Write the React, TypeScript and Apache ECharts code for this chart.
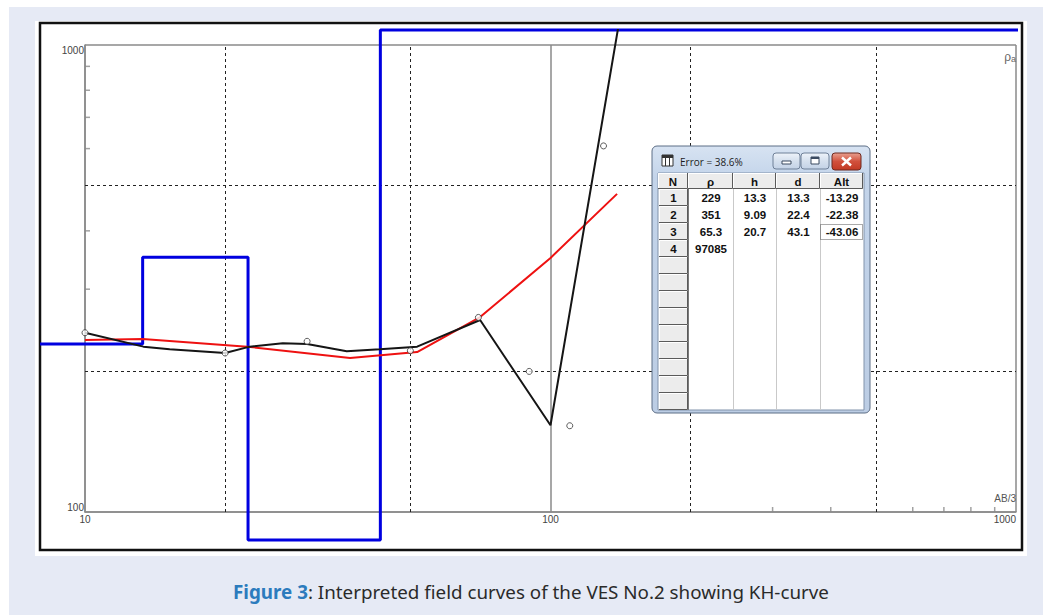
import React, { useEffect, useRef } from "react";
import * as echarts from "echarts";

// ---- Layer model (table + blue step curve) ----
const layerRho = [229, 351, 65.3, 97085];
const layerH = [13.3, 9.09, 20.7];
const layerD = [13.3, 22.4, 43.1];
const layerAlt = [-13.29, -22.38, -43.06];
const errorText = "Error = 38.6%";

// ---- Field data (open circles) ----
const fieldAB = [10, 20, 30, 50, 70, 90, 110, 130];
const fieldRho = [242, 219, 232, 221.5, 261, 200, 153, 608];

// ---- Black curve ----
const blackAB = [10, 13.35, 15.2, 20, 22.6, 26.6, 30, 36.5, 43, 51.7, 70.6, 100, 140];
const blackRho = [242, 226, 223, 219, 226, 229.7, 229, 221, 223, 226, 257.7, 153.4, 1100];

// ---- Red curve ----
const redAB = [10, 13.3, 22.3, 37.1, 51.7, 70.6, 100, 139];
const redRho = [233.5, 234.7, 226, 213.7, 220, 261.5, 350, 480];

// ---- Axes / grid ----
const xRange = [10, 1000];
const yRange = [100, 1000];
const dashedX = [20, 50, 200, 500];
const dashedY = [200, 500];
const minorX = [300, 400, 600, 700, 800, 900];
const minorY = [300, 400, 600, 700, 800, 900];

const caption1 = "Figure 3";
const caption2 = ": Interpreted field curves of the VES No.2 showing KH-curve";

export default function App() {
  const ref = useRef<HTMLDivElement>(null);
  useEffect(() => {
    if (!ref.current) return;
    const chart = echarts.init(ref.current, null, { renderer: "svg" });

    // plot geometry
    const G1 = { left: 85, top: 45, width: 931, height: 467 };
    const G2 = { left: 40, top: 30, width: 978, height: 510 };
    const decX = G1.width / 2;
    const decY = G1.height / 1;
    const lx0 = Math.log10(xRange[0]);
    const ly1 = Math.log10(yRange[1]);
    const x2min = Math.pow(10, lx0 - (G1.left - G2.left) / decX);
    const x2max = Math.pow(10, lx0 + (G2.left + G2.width - G1.left) / decX);
    const y2max = Math.pow(10, ly1 + (G1.top - G2.top) / decY);
    const y2min = Math.pow(10, ly1 - (G2.top + G2.height - G1.top) / decY);
    const clampX = (v: number) => Math.min(Math.max(v, x2min), x2max);
    const clampY = (v: number) => Math.min(Math.max(v, y2min), y2max);

    // blue step curve from layers (values beyond the panel are pinned to its edge, as in the source program)
    const blueRaw: number[][] = [];
    blueRaw.push([1, layerRho[0]]);
    for (let i = 0; i < layerD.length; i++) {
      blueRaw.push([layerD[i], layerRho[i]]);
      blueRaw.push([layerD[i], layerRho[i + 1]]);
    }
    blueRaw.push([100000, layerRho[layerRho.length - 1]]);
    const blue = blueRaw.map(([x, y]) => [clampX(x), clampY(y)]);

    // ---- table window graphic ----
    const ZT = 50;
    const W = { x: 652, y: 146, w: 218, h: 267 };
    const cols = [658, 688, 733, 776, 820, 863];
    const headY = 173;
    const rowY0 = 189;
    const rowH = 17;
    const nRows = 13;
    const tbl: any[] = [];
    const add = (el: any) => tbl.push({ z: ZT, ...el });
    add({
      type: "rect",
      shape: { x: W.x, y: W.y, width: W.w, height: W.h, r: 5 },
      style: {
        fill: new echarts.graphic.LinearGradient(0, 0, 0, 1, [
          { offset: 0, color: "#d7e3f2" },
          { offset: 0.12, color: "#c3d4ea" },
          { offset: 1, color: "#bccde4" },
        ]),
        stroke: "#5d6e86",
        lineWidth: 1,
      },
    });
    add({
      type: "rect",
      shape: { x: cols[0], y: headY, width: cols[5] - cols[0] + 1, height: 410 - headY },
      style: { fill: "#ffffff", stroke: "#8193ab", lineWidth: 1 },
    });
    // icon
    add({ type: "rect", shape: { x: 662, y: 155, width: 11, height: 11 }, style: { fill: "#fff", stroke: "#333", lineWidth: 1 } });
    add({ type: "rect", shape: { x: 662, y: 155, width: 11, height: 3 }, style: { fill: "#333" } });
    add({ type: "line", shape: { x1: 665.5, y1: 157, x2: 665.5, y2: 166 }, style: { stroke: "#333", lineWidth: 1 } });
    add({ type: "line", shape: { x1: 669.5, y1: 157, x2: 669.5, y2: 166 }, style: { stroke: "#333", lineWidth: 1 } });
    add({
      type: "text",
      style: { x: 680, y: 162, text: errorText, fill: "#1c1c1c", font: '10px "Open Sans", "Noto Sans", sans-serif', verticalAlign: "middle", align: "left" },
    });
    // buttons
    const btnGrad = () =>
      new echarts.graphic.LinearGradient(0, 0, 0, 1, [
        { offset: 0, color: "#eef3fa" },
        { offset: 0.5, color: "#d5e0ee" },
        { offset: 1, color: "#c3d2e6" },
      ]);
    add({ type: "rect", shape: { x: 773, y: 153, width: 27, height: 16, r: 3 }, style: { fill: btnGrad(), stroke: "#6f8098", lineWidth: 1 } });
    add({ type: "rect", shape: { x: 801, y: 153, width: 28, height: 16, r: 3 }, style: { fill: btnGrad(), stroke: "#6f8098", lineWidth: 1 } });
    add({ type: "rect", shape: { x: 782, y: 161, width: 9, height: 3 }, style: { fill: "#ffffff", stroke: "#3b4a60", lineWidth: 1 } });
    add({ type: "rect", shape: { x: 811, y: 157, width: 8, height: 7 }, style: { fill: "#ffffff", stroke: "#3b4a60", lineWidth: 1 } });
    add({ type: "rect", shape: { x: 811, y: 157, width: 8, height: 2 }, style: { fill: "#3b4a60" } });
    add({
      type: "rect",
      shape: { x: 832, y: 153, width: 29, height: 17, r: 3 },
      style: {
        fill: new echarts.graphic.LinearGradient(0, 0, 0, 1, [
          { offset: 0, color: "#e9a090" },
          { offset: 0.5, color: "#d1503c" },
          { offset: 1, color: "#c23a24" },
        ]),
        stroke: "#6e2a20",
        lineWidth: 1,
      },
    });
    add({ type: "line", shape: { x1: 842, y1: 157.5, x2: 851, y2: 165.5 }, style: { stroke: "#ffffff", lineWidth: 2.4 } });
    add({ type: "line", shape: { x1: 851, y1: 157.5, x2: 842, y2: 165.5 }, style: { stroke: "#ffffff", lineWidth: 2.4 } });

    const cellFont = 'bold 11.5px "Liberation Sans", Arial, sans-serif';
    const raised = (x: number, y: number, w: number, h: number) => {
      add({ type: "rect", shape: { x, y, width: w, height: h }, style: { fill: "#ececec" } });
      add({ type: "polyline", shape: { points: [[x + 0.5, y + h], [x + 0.5, y + 0.5], [x + w, y + 0.5]] }, style: { stroke: "#ffffff", lineWidth: 1, fill: null } });
      add({ type: "polyline", shape: { points: [[x, y + h - 0.5], [x + w - 0.5, y + h - 0.5], [x + w - 0.5, y]] }, style: { stroke: "#5a5a5a", lineWidth: 1, fill: null } });
    };
    // header
    const heads = ["N", "ρ", "h", "d", "Alt"];
    for (let c = 0; c < 5; c++) {
      raised(cols[c], headY, cols[c + 1] - cols[c], rowY0 - headY);
      add({
        type: "text",
        style: { x: (cols[c] + cols[c + 1]) / 2, y: (headY + rowY0) / 2 + 0.5, text: heads[c], fill: "#111", font: cellFont, align: "center", verticalAlign: "middle" },
      });
    }
    // column separators
    for (let c = 2; c < 5; c++) {
      add({ type: "line", shape: { x1: cols[c] + 0.5, y1: rowY0, x2: cols[c] + 0.5, y2: 410 }, style: { stroke: "#c9c9c9", lineWidth: 1 } });
    }
    add({ type: "line", shape: { x1: cols[1] + 0.5, y1: rowY0, x2: cols[1] + 0.5, y2: 410 }, style: { stroke: "#7a7a7a", lineWidth: 1 } });
    // rows
    for (let r = 0; r < nRows; r++) {
      const y = rowY0 + r * rowH;
      raised(cols[0] + 1, y, cols[1] - cols[0] - 1, rowH);
      const cy = y + rowH / 2 + 0.5;
      const vals: string[] = [];
      if (r < layerRho.length) {
        vals.push(String(r + 1));
        vals.push(String(layerRho[r]));
        vals.push(r < layerH.length ? String(layerH[r]) : "");
        vals.push(r < layerD.length ? String(layerD[r]) : "");
        vals.push(r < layerAlt.length ? String(layerAlt[r]) : "");
      }
      vals.forEach((v, c) => {
        if (!v) return;
        add({
          type: "text",
          style: { x: (cols[c] + cols[c + 1]) / 2 + 0.5, y: cy, text: v, fill: "#111", font: cellFont, align: "center", verticalAlign: "middle" },
        });
      });
    }
    // focus rect
    add({
      type: "rect",
      shape: { x: 820.5, y: rowY0 + 2 * rowH + 1.5, width: 42, height: rowH - 2 },
      style: { fill: null, stroke: "#555", lineWidth: 1, lineDash: [1, 1] },
    });

    const labelFmt = (v: number) => String(Math.round(v));

    const option: any = {
      animation: false,
      backgroundColor: "#ffffff",
      graphic: [
        { type: "rect", z: -10, shape: { x: 9, y: 7, width: 1034, height: 608 }, style: { fill: "#e6eaf5" } },
        { type: "rect", z: -9, shape: { x: 35, y: 21, width: 992, height: 535 }, style: { fill: "#ffffff" } },
        { type: "rect", z: -8, shape: { x: 40, y: 23, width: 982, height: 527 }, style: { fill: "#ffffff", stroke: "#111", lineWidth: 2.5 } },
        {
          type: "text",
          z: 5,
          style: {
            x: 1016,
            y: 57,
            text: "{r|ρ}{s|a}",
            align: "right",
            verticalAlign: "middle",
            rich: {
              r: { fontSize: 12, fill: "#666", fontFamily: "Liberation Sans" },
              s: { fontSize: 9, fill: "#666", fontFamily: "Liberation Sans", padding: [4, 0, 0, 0] },
            },
          },
        },
        {
          type: "text",
          z: 5,
          style: { x: 1016, y: 498, text: "AB/3", align: "right", verticalAlign: "middle", fill: "#555", font: '10px "Liberation Sans", Arial, sans-serif' },
        },
        {
          type: "text",
          z: 5,
          style: {
            x: 531,
            y: 592,
            text: "{b|" + caption1 + "}{n|" + caption2 + "}",
            align: "center",
            verticalAlign: "middle",
            rich: {
              b: { fontSize: 18.8, fontWeight: "bold", fill: "#2c7bbd", fontFamily: "Noto Sans" },
              n: { fontSize: 18.8, fill: "#2a2a2a", fontFamily: "Noto Sans" },
            },
          },
        },
        ...tbl,
      ],
      grid: [
        { ...G1, show: false },
        { ...G2, show: false },
      ],
      xAxis: [
        {
          type: "log",
          logBase: 10,
          gridIndex: 0,
          min: xRange[0],
          max: xRange[1],
          axisLine: { show: true, lineStyle: { color: "#8a8a8a", width: 1.5 } },
          axisTick: { show: false },
          axisLabel: { color: "#444", fontSize: 10, fontFamily: "Liberation Sans", margin: 2, alignMaxLabel: "right", alignMinLabel: "center", formatter: labelFmt },
          splitLine: { show: true, lineStyle: { color: "#8a8a8a", width: 1.5 } },
        },
        { type: "log", logBase: 10, gridIndex: 1, min: x2min, max: x2max, show: false, splitLine: { show: false } },
      ],
      yAxis: [
        {
          type: "log",
          logBase: 10,
          gridIndex: 0,
          min: yRange[0],
          max: yRange[1],
          axisLine: { show: true, lineStyle: { color: "#8a8a8a", width: 1.5 } },
          axisTick: { show: false },
          axisLabel: {
            color: "#444",
            fontSize: 10,
            fontFamily: "Liberation Sans",
            margin: 1,
            formatter: labelFmt,
            verticalAlignMinLabel: "bottom",
            verticalAlignMaxLabel: "top",
          },
          splitLine: { show: true, lineStyle: { color: "#8a8a8a", width: 1.5 } },
        },
        { type: "log", logBase: 10, gridIndex: 1, min: y2min, max: y2max, show: false, splitLine: { show: false } },
      ],
      series: [
        {
          type: "scatter",
          name: "gridlines",
          xAxisIndex: 0,
          yAxisIndex: 0,
          data: [],
          silent: true,
          z: 1,
          markLine: {
            silent: true,
            z: 1,
            symbol: ["none", "none"],
            label: { show: false },
            lineStyle: { type: [3, 3], color: "#222", width: 1 },
            data: [...dashedX.map((v) => ({ xAxis: v })), ...dashedY.map((v) => ({ yAxis: v }))],
          },
        },
        {
          type: "scatter",
          name: "xminor",
          xAxisIndex: 0,
          yAxisIndex: 0,
          clip: false,
          silent: true,
          symbol: "rect",
          symbolSize: [1.5, 5],
          symbolOffset: [0, -2.5],
          itemStyle: { color: "#8a8a8a" },
          data: minorX.map((v) => [v, yRange[0]]),
        },
        {
          type: "scatter",
          name: "yminor",
          xAxisIndex: 0,
          yAxisIndex: 0,
          clip: false,
          silent: true,
          symbol: "rect",
          symbolSize: [5, 1.5],
          symbolOffset: [2.5, 0],
          itemStyle: { color: "#8a8a8a" },
          data: minorY.map((v) => [xRange[0], v]),
        },
        {
          type: "line",
          name: "model",
          xAxisIndex: 1,
          yAxisIndex: 1,
          clip: false,
          showSymbol: false,
          data: blue,
          lineStyle: { color: "#0000e0", width: 3 },
          z: 3,
        },
        {
          type: "line",
          name: "red",
          xAxisIndex: 1,
          yAxisIndex: 1,
          clip: true,
          showSymbol: false,
          data: redAB.map((v, i) => [v, redRho[i]]),
          lineStyle: { color: "#ee1111", width: 2 },
          z: 4,
        },
        {
          type: "line",
          name: "black",
          xAxisIndex: 1,
          yAxisIndex: 1,
          clip: true,
          showSymbol: false,
          data: blackAB.map((v, i) => [v, blackRho[i]]),
          lineStyle: { color: "#151515", width: 2 },
          z: 5,
        },
        {
          type: "scatter",
          name: "field",
          xAxisIndex: 0,
          yAxisIndex: 0,
          clip: false,
          symbol: "circle",
          symbolSize: 6,
          itemStyle: { color: "#ffffff", borderColor: "#333", borderWidth: 1 },
          data: fieldAB.map((v, i) => [v, fieldRho[i]]),
          z: 6,
        },
      ],
    };
    chart.setOption(option);
    return () => chart.dispose();
  }, []);
  return <div ref={ref} style={{ position: "fixed", left: 0, top: 0, width: 1043, height: 615 }} />;
}
